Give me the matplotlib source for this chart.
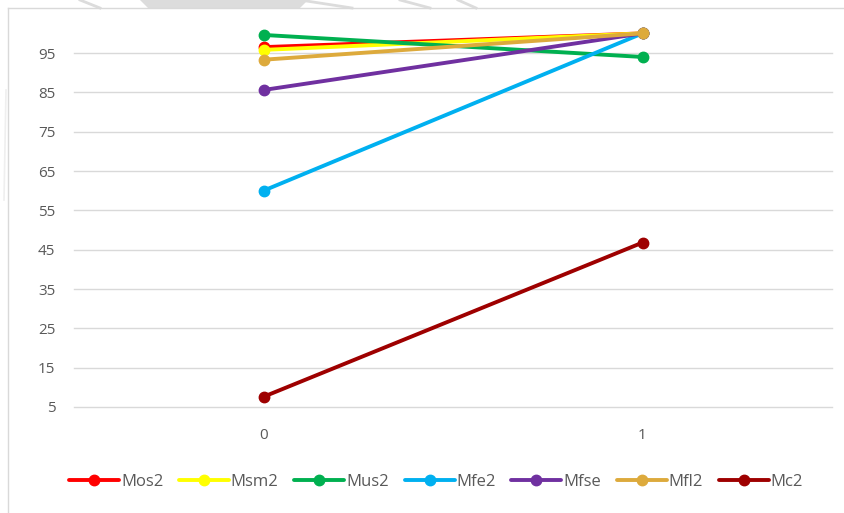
import matplotlib
matplotlib.use("Agg")
import matplotlib.pyplot as plt
from matplotlib.lines import Line2D
from matplotlib.patches import Polygon

# Categories on the x axis and the y tick values
categories = ["0", "1"]
y_ticks = [5, 15, 25, 35, 45, 55, 65, 75, 85, 95]

# Series values
series_names = ["Mos2", "Msm2", "Mus2", "Mfe2", "Mfse", "Mfl2", "Mc2"]
mos2 = [96.5, 100]
msm2 = [95.8, 100]
mus2 = [99.6, 94]
mfe2 = [60, 100]
mfse = [85.6, 100]
mfl2 = [93.3, 100]
mc2 = [7.6, 46.8]

colors = ["#FF0000", "#FFFF00", "#00B050", "#00B0F0", "#7030A0", "#DDAA3C", "#9E0000"]
values = [mos2, msm2, mus2, mfe2, mfse, mfl2, mc2]

W, H = 845, 513
fig = plt.figure(figsize=(W / 100, H / 100), dpi=100)
fig.patch.set_facecolor("white")

font = ["Open Sans", "DejaVu Sans"]
text_color = "#595959"

# faint seal watermark strip above the chart frame
wm = "#dcdcdc"
fig.add_artist(Polygon([(140 / W, 1), (308 / W, 1), (300 / W, 1 - 8 / H), (148 / W, 1 - 8 / H)],
                       closed=True, transform=fig.transFigure, facecolor=wm, edgecolor="none"))
for (x0, x1) in [(80, 100), (300, 352), (400, 430), (458, 476)]:
    fig.add_artist(Line2D([x0 / W, x1 / W], [1, 1 - 8 / H], transform=fig.transFigure,
                          color=wm, lw=2.0))
fig.add_artist(Line2D([6 / W, 4 / W], [1 - 90 / H, 1 - 200 / H], transform=fig.transFigure,
                      color="#efefef", lw=1.2))

# chart frame (left and top edges)
fig.add_artist(Line2D([8 / W, 8 / W], [1 - 8 / H, 0], transform=fig.transFigure,
                      color="#d9d9d9", lw=1.0))
fig.add_artist(Line2D([8 / W, 1], [1 - 8 / H, 1 - 8 / H], transform=fig.transFigure,
                      color="#d9d9d9", lw=1.0))

ax_left = 74 / W
ax_right = 832 / W
y5 = 407
ppu = 3.933
ymax = 103
ax_bottom = (H - y5) / H
ax_height = (ymax - 5) * ppu / H
ax = fig.add_axes([ax_left, ax_bottom, ax_right - ax_left, ax_height])
ax.set_facecolor("none")

x = list(range(len(categories)))
for name, vals, c in zip(series_names, values, colors):
    ax.plot(x, vals, color=c, lw=2.8, marker="o", markersize=7.5,
            solid_capstyle="round", label=name, zorder=3)

ax.set_xlim(-0.5, len(categories) - 0.5)
ax.set_ylim(5, ymax)
ax.set_yticks(y_ticks)
ax.set_xticks(x)
ax.set_xticklabels(categories)
for yt in y_ticks:
    ax.axhline(yt, color="#d9d9d9", lw=1.0, zorder=1, clip_on=False)
for s in ax.spines.values():
    s.set_visible(False)
ax.tick_params(axis="both", length=0, colors=text_color, labelsize=11)
ax.tick_params(axis="y", pad=13.5)
ax.tick_params(axis="x", pad=15)
for lab in ax.get_xticklabels() + ax.get_yticklabels():
    lab.set_family(font)

leg = fig.legend(loc="center", bbox_to_anchor=(436 / W, 1 - 482 / H), ncol=7, frameon=False,
                 handlelength=3.0, handletextpad=0.1, columnspacing=0.95,
                 prop={"family": font, "size": 12})
for t in leg.get_texts():
    t.set_color(text_color)

fig.savefig("out.png", dpi=100, facecolor="white")
